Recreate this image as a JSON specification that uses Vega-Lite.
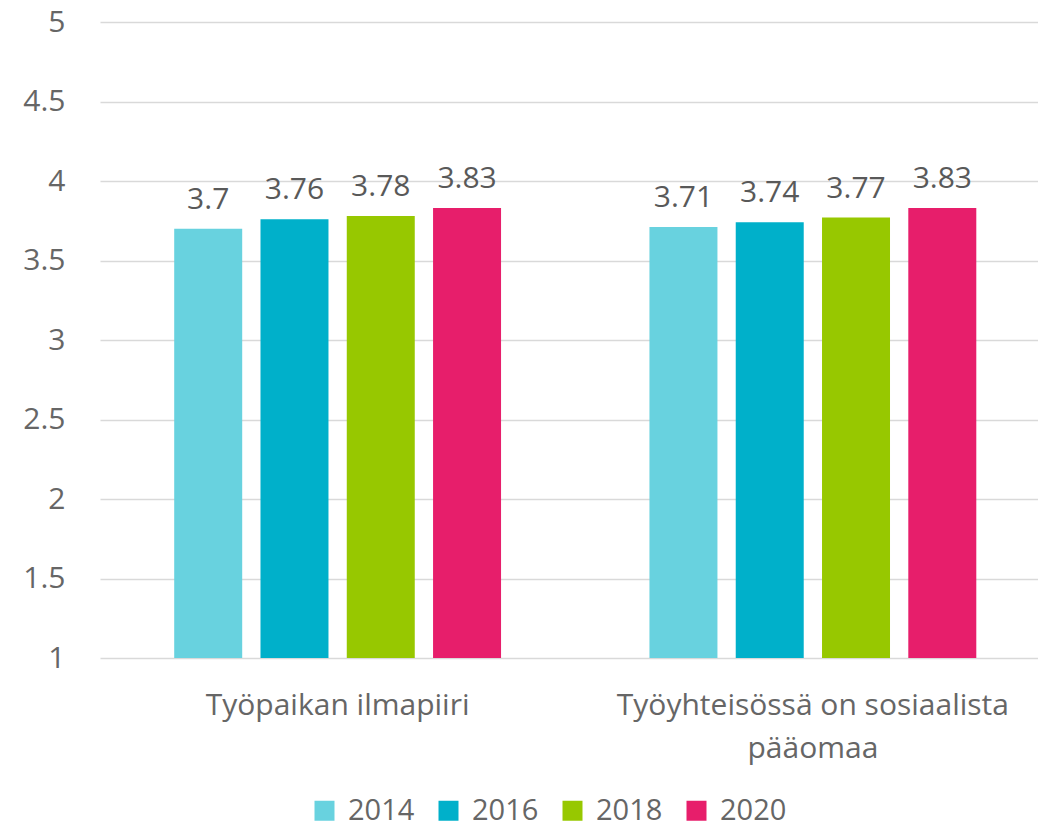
{
  "$schema": "https://vega.github.io/schema/vega-lite/v6.json",
  "width": 938,
  "height": 636,
  "autosize": {"type": "none"},
  "padding": {"left": 100, "top": 22, "right": 0, "bottom": 168},
  "config": {"view": {"stroke": null}, "font": "Open Sans"},
  "data": {
    "values": [
      {"category": "Työpaikan ilmapiiri", "year": "2014", "value": 3.7},
      {"category": "Työpaikan ilmapiiri", "year": "2016", "value": 3.76},
      {"category": "Työpaikan ilmapiiri", "year": "2018", "value": 3.78},
      {"category": "Työpaikan ilmapiiri", "year": "2020", "value": 3.83},
      {"category": "Työyhteisössä on sosiaalista pääomaa", "year": "2014", "value": 3.71},
      {"category": "Työyhteisössä on sosiaalista pääomaa", "year": "2016", "value": 3.74},
      {"category": "Työyhteisössä on sosiaalista pääomaa", "year": "2018", "value": 3.77},
      {"category": "Työyhteisössä on sosiaalista pääomaa", "year": "2020", "value": 3.83}
    ]
  },
  "encoding": {
    "x": {
      "field": "category", "type": "nominal", "sort": null,
      "scale": {"range": [0, 950.5], "paddingInner": 0, "paddingOuter": 0},
      "axis": {
        "title": null, "labelAngle": 0, "domain": false, "ticks": false,
        "labelFontSize": 30, "labelColor": "#666666", "labelPadding": 32,
        "labelLineHeight": 43, "labelLimit": 0,
        "labelExpr": "datum.value == 'Työyhteisössä on sosiaalista pääomaa' ? ['Työyhteisössä on sosiaalista', 'pääomaa'] : datum.value"
      }
    },
    "xOffset": {
      "field": "year", "type": "nominal",
      "scale": {"paddingInner": 0.212, "paddingOuter": 0.86}
    },
    "y": {
      "field": "value", "type": "quantitative",
      "scale": {"domain": [1, 5], "zero": false, "nice": false},
      "axis": {
        "title": null, "values": [1, 1.5, 2, 2.5, 3, 3.5, 4, 4.5, 5], "format": "~g",
        "domain": false, "ticks": false, "labelFontSize": 30,
        "labelColor": "#666666", "labelPadding": 35, "labelFlush": false,
        "gridColor": "#d9d9d9", "gridWidth": 1.5
      }
    }
  },
  "layer": [
    {
      "mark": {"type": "bar"},
      "encoding": {
        "y2": {"datum": 1},
        "color": {
          "field": "year", "type": "nominal",
          "scale": {"domain": ["2014", "2016", "2018", "2020"], "range": ["#68D2DF", "#00B0CA", "#97C800", "#E71E6B"]},
          "legend": {
            "title": null, "orient": "none", "direction": "horizontal",
            "legendX": 210, "legendY": 774,
            "symbolType": "square", "symbolSize": 400, "symbolStrokeWidth": 0,
            "labelFontSize": 29, "labelColor": "#666666", "labelOffset": 9,
            "labelLimit": 0, "columnPadding": 19
          }
        }
      }
    },
    {
      "mark": {"type": "text", "fontSize": 30, "fill": "#595959", "baseline": "alphabetic", "dy": -20},
      "encoding": {"text": {"field": "value", "type": "quantitative"}}
    }
  ]
}
